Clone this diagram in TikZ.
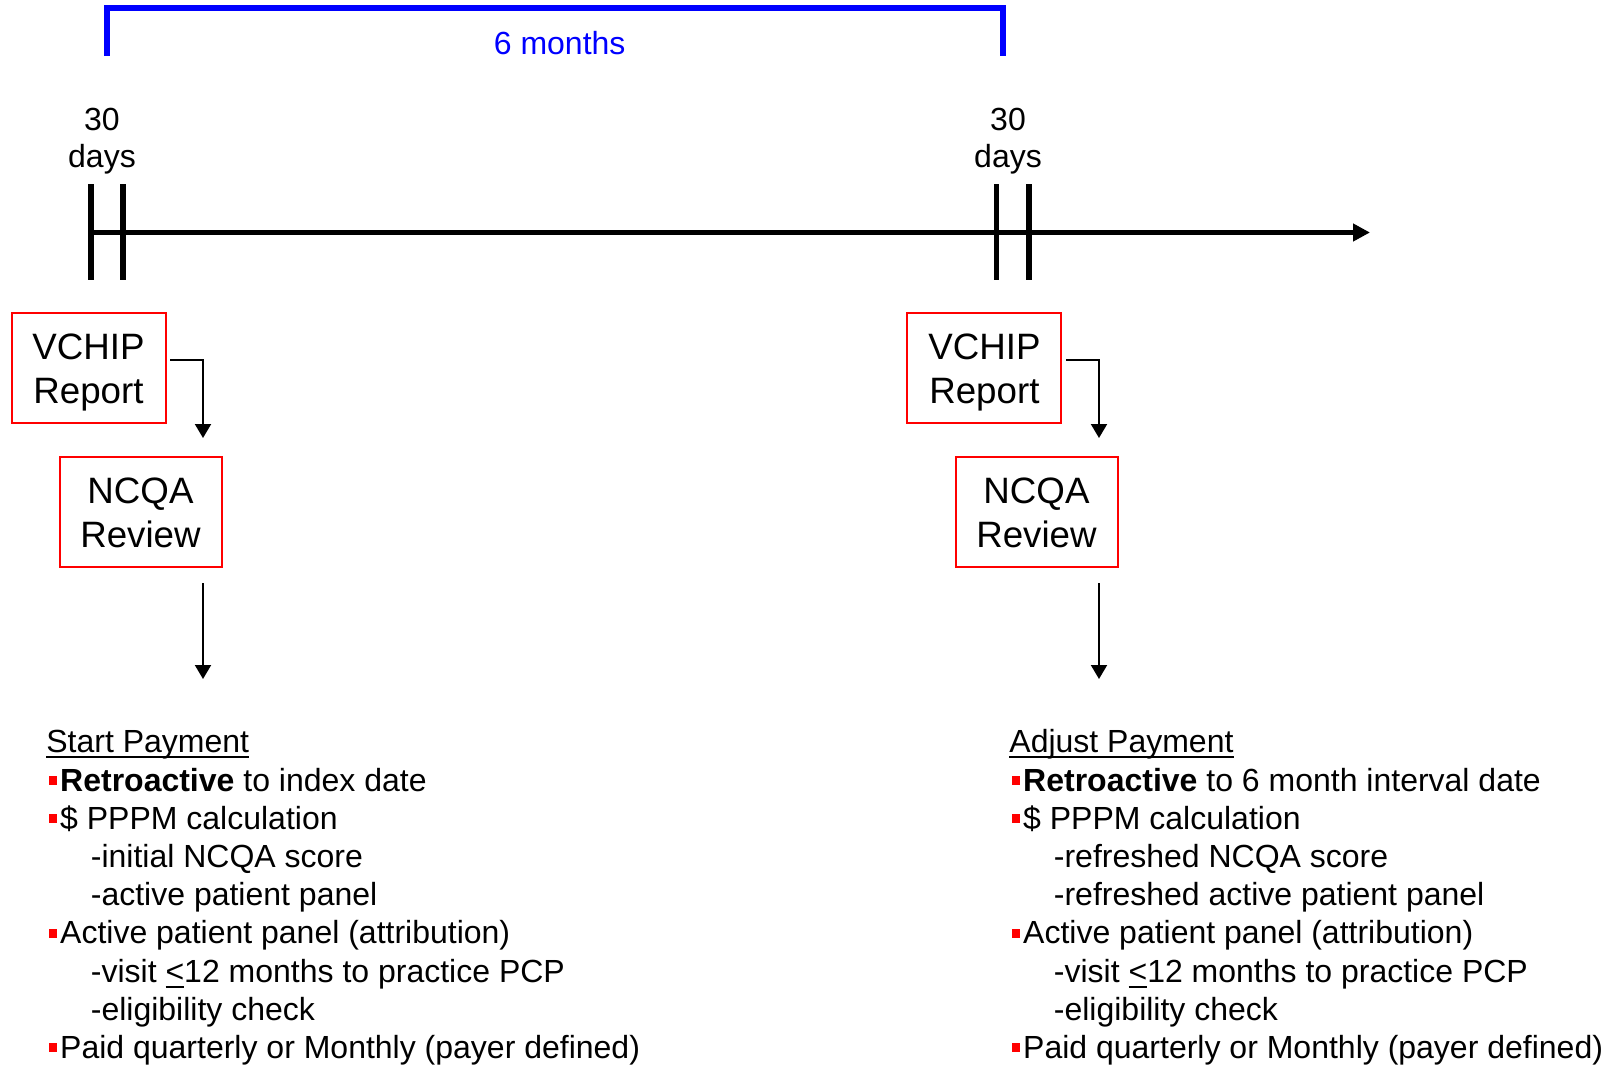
\documentclass[tikz,border=0pt]{standalone}
\usepackage{fontspec}
\setmainfont{Liberation Sans}
\usetikzlibrary{arrows.meta,calc}
\definecolor{bred}{RGB}{255,0,0}
\definecolor{bblue}{RGB}{0,0,255}
\newcommand\bul{\hspace*{2.5pt}\textcolor{bred}{\rule[6.3pt]{8pt}{9pt}}\hspace{3.3pt}}
\newcommand\sub{\hspace*{44.5pt}}
\newsavebox\ulbox
\newcommand\myul[1]{\sbox\ulbox{#1}\rlap{\rule[-5.5pt]{\wd\ulbox}{2pt}}\usebox\ulbox}
\tikzset{
  bigtxt/.style={font=\fontsize{32}{38.2}\selectfont, inner sep=0pt},
  daylbl/.style={font=\fontsize{32}{37.5}\selectfont, inner sep=0pt, align=center, anchor=south},
  redbox/.style={draw=bred, line width=2pt, inner sep=0pt, align=center,
    font=\fontsize{36.7}{44}\selectfont, minimum height=110pt},
  tick/.style={line width=5.5pt},
  conn/.style={line width=2pt, -{Triangle[length=14pt,width=16pt]}},
}
\begin{document}
\begin{tikzpicture}[x=1pt,y=-1pt]
\useasboundingbox (0,0) rectangle (1606,1065);
% bracket
\coordinate (bl) at (107,56);
\coordinate (br) at (1003,56);
\draw[bblue, line width=5.5pt] (bl) -- (bl |- 0,8) -- (br |- 0,8) -- (br);
\node[bigtxt, text=bblue, anchor=base] (six) at (559.7,55) {6 months};
% timeline
\coordinate (tstart) at (91,232.5);
\coordinate (tend) at (1370,232.5);
\draw[line width=5pt, -{Triangle[length=17pt,width=17pt]}] (tstart) -- (tend);
\foreach \x in {91,123,996.7,1029} \draw[tick] (\x,184) -- (\x,280);
\node[daylbl] (d1) at (102,176) {30\\days\rule[-8pt]{0pt}{0pt}};
\node[daylbl] (d2) at (1008,176) {30\\days\rule[-8pt]{0pt}{0pt}};
% boxes
\node[redbox, minimum width=154pt] (v1) at (88.5,367.5) {\rule{0pt}{37pt}VCHIP\\Report\rule[-10pt]{0pt}{0pt}};
\node[redbox, minimum width=162pt] (n1) at (140.5,511.5) {\rule{0pt}{37pt}NCQA\\Review\rule[-10pt]{0pt}{0pt}};
\node[redbox, minimum width=154pt] (v2) at (984.4,367.5) {\rule{0pt}{37pt}VCHIP\\Report\rule[-10pt]{0pt}{0pt}};
\node[redbox, minimum width=162pt] (n2) at (1036.5,511.5) {\rule{0pt}{37pt}NCQA\\Review\rule[-10pt]{0pt}{0pt}};
% arrows
\coordinate (a1s) at (170,360);
\coordinate (a1e) at (203,438);
\coordinate (b1s) at (203,583);
\coordinate (b1e) at (203,679);
\coordinate (a2s) at (1066,360);
\coordinate (a2e) at (1099,438);
\coordinate (b2s) at (1099,583);
\coordinate (b2e) at (1099,679);
\draw[conn] (a1s) -| (a1e);
\draw[conn] (b1s) -- (b1e);
\draw[conn] (a2s) -| (a2e);
\draw[conn] (b2s) -- (b2e);
% text blocks
\node[bigtxt, align=left, anchor=north west] (t1) at (46.2,722.7) {%
\rule{0pt}{30pt}\myul{Start Payment}\\
\bul\textbf{Retroactive} to index date\\
\bul\$ PPPM calculation\\
\sub-initial NCQA score\\
\sub-active patient panel\\
\bul Active patient panel (attribution)\\
\sub-visit \myul{\textless}12 months to practice PCP\\
\sub-eligibility check\\
\bul Paid quarterly or Monthly (payer defined)};
\node[bigtxt, align=left, anchor=north west] (t2) at (1009.2,722.7) {%
\rule{0pt}{30pt}\myul{Adjust Payment}\\
\bul\textbf{Retroactive} to 6 month interval date\\
\bul\$ PPPM calculation\\
\sub-refreshed NCQA score\\
\sub-refreshed active patient panel\\
\bul Active patient panel (attribution)\\
\sub-visit \myul{\textless}12 months to practice PCP\\
\sub-eligibility check\\
\bul Paid quarterly or Monthly (payer defined)};
\end{tikzpicture}
\end{document}
